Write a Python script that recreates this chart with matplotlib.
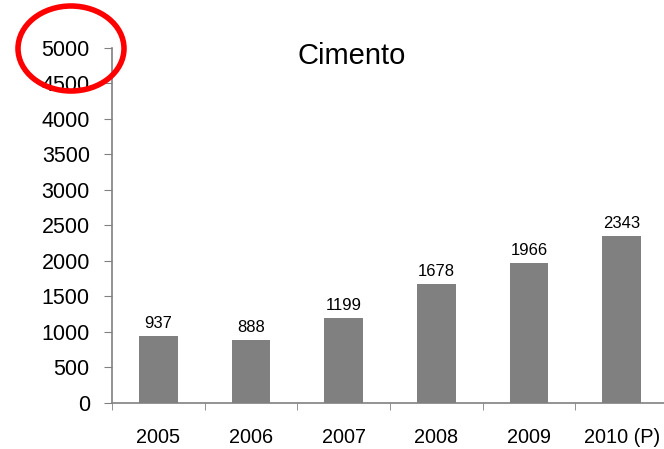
import matplotlib.pyplot as plt
from matplotlib.patches import Ellipse
import numpy as np

plt.rcParams['font.family'] = ['Liberation Sans', 'DejaVu Sans']

years = ['2005', '2006', '2007', '2008', '2009', '2010 (P)']
valores = [937, 888, 1199, 1678, 1966, 2343]

fig = plt.figure(figsize=(6.64, 4.49), dpi=100)
ax = fig.add_axes([112/664, 1 - 403/449, 556/664, (403 - 47.5)/449])

x = np.arange(len(years))
ax.bar(x, valores, width=0.42, color='#808080')
for xi, v in zip(x, valores):
    ax.text(xi, v + 70, str(v), ha='center', va='bottom', fontsize=12)

ax.set_xlim(-0.5, len(years) - 0.5)
ax.set_ylim(0, 5000)
ax.set_yticks(np.arange(0, 5001, 500))
ax.set_xticks(x)
ax.set_xticklabels(years)
ax.set_xticks(np.arange(-0.5, len(years)), minor=True)
ax.tick_params(axis='x', which='major', length=0, labelsize=14.3, pad=18)
ax.tick_params(axis='x', which='minor', length=5, color='#808080', direction='out')
ax.tick_params(axis='y', length=6, color='#808080', labelsize=15.5, pad=10)

for s in ['top', 'right']:
    ax.spines[s].set_visible(False)
for s in ['left', 'bottom']:
    ax.spines[s].set_color('#808080')
    ax.spines[s].set_linewidth(1.2)

fig.text(352/664, 1 - 56/449, 'Cimento', ha='center', va='center', fontsize=21)

# marca vermelha em volta do 5000
ell = Ellipse((71/664, 1 - 48.5/449), 106/664, 85/449, transform=fig.transFigure,
              fill=False, edgecolor='#ff0000', linewidth=4)
fig.patches.append(ell)

fig.savefig('out.png', dpi=100)
